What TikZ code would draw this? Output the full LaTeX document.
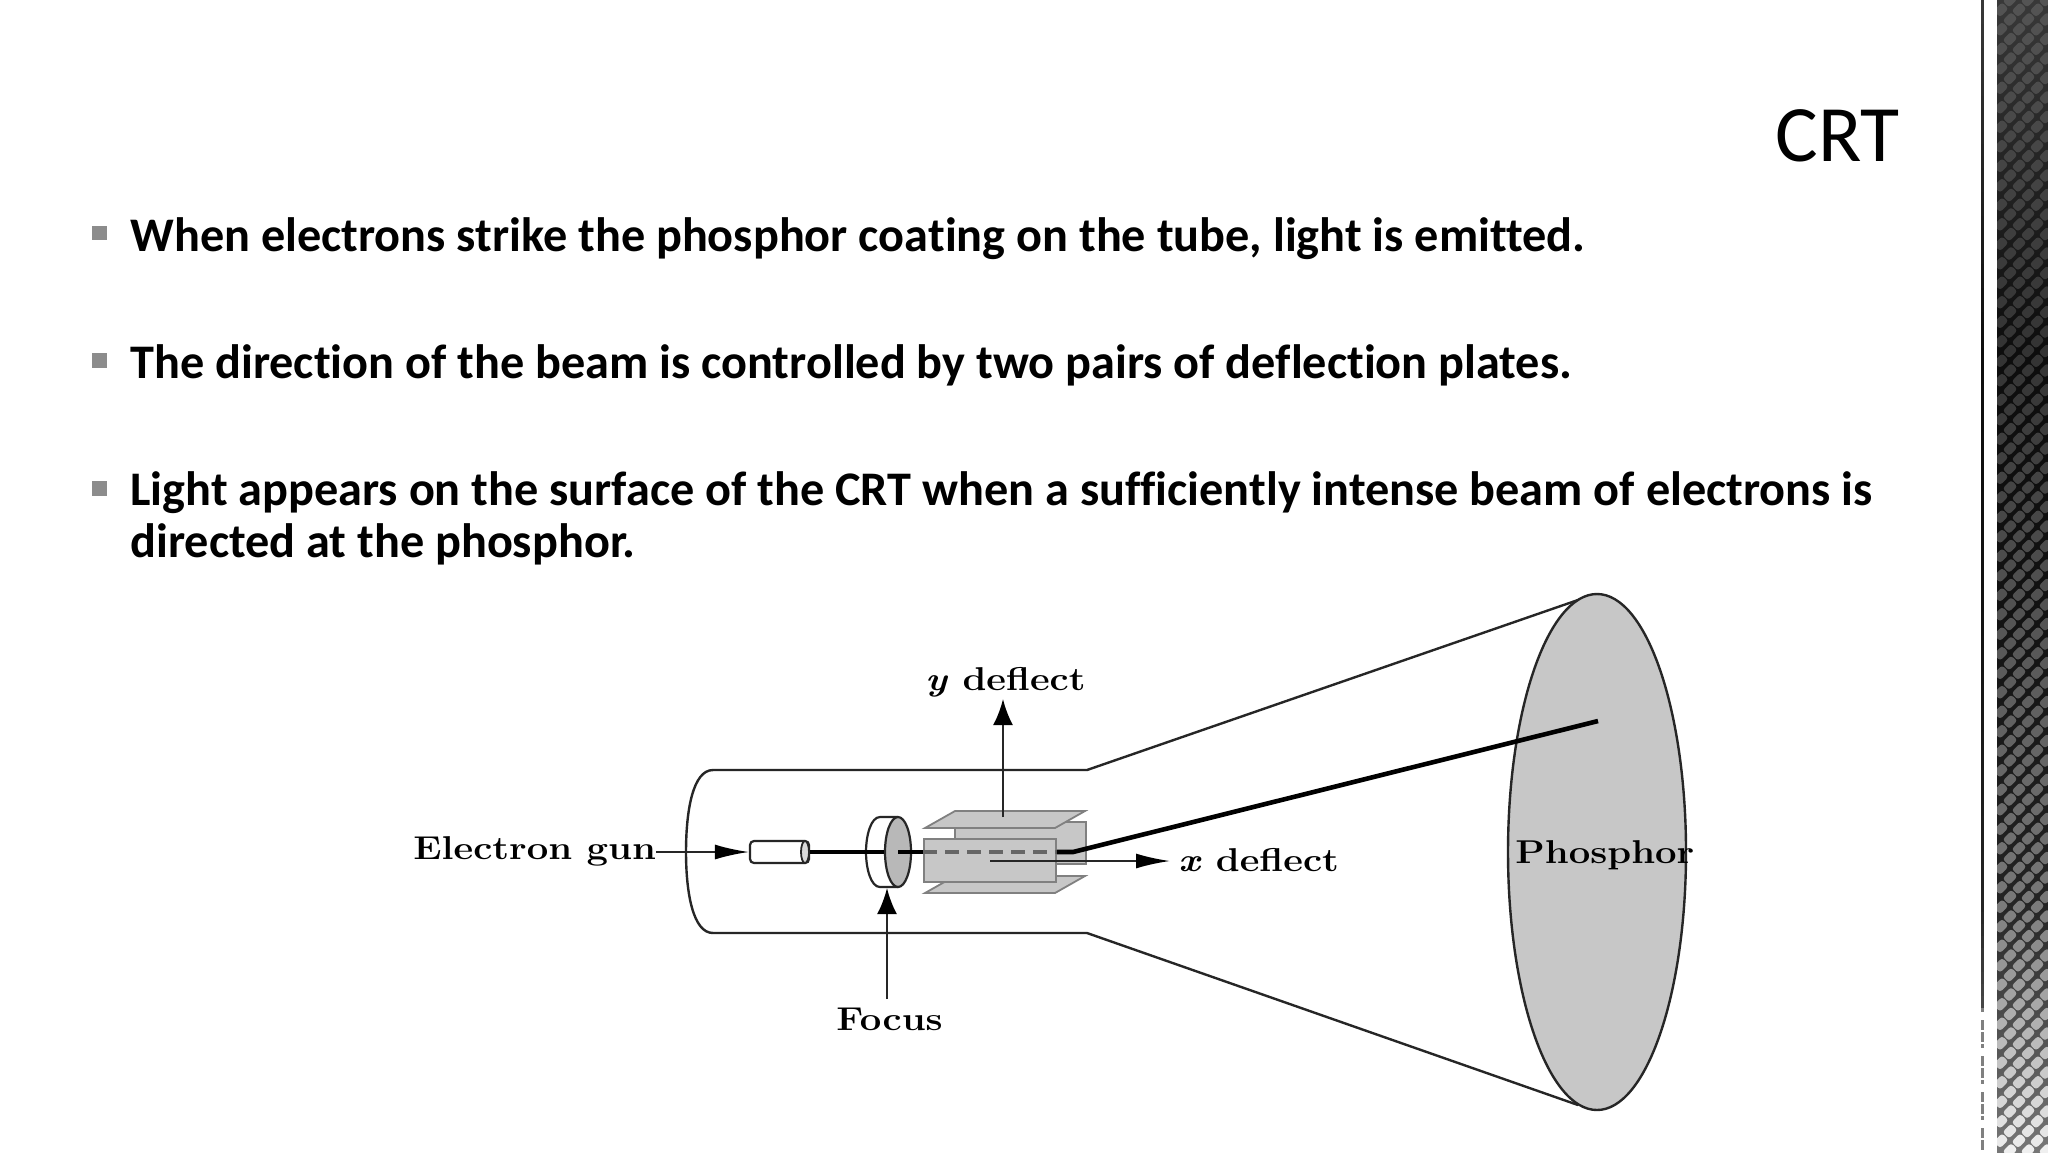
\documentclass[tikz,border=0pt]{standalone}
\usepackage{fontspec}
\usepackage{graphicx}
\usetikzlibrary{arrows.meta,shapes.geometric}
\newfontfamily\carlito{Carlito}[Ligatures=NoCommon]
\def\bgexpr#1{(#1<350?.22-.17*#1/350:(#1<600?.05+.02*(#1-350)/250:(#1<900?.07+.07*(#1-600)/300:(#1<1000?.14+.14*(#1-900)/100:.28+.19*(#1-1000)/152))))}
\def\dmexpr#1{(#1<350?.33-.13*#1/350:(#1<600?.20+.12*(#1-350)/250:(#1<900?.32+.15*(#1-600)/300:(#1<1000?.47+.18*(#1-900)/100:.65+.29*(#1-1000)/152))))}
\newcommand{\wide}[1]{\scalebox{1.16}[1]{\addfontfeature{FakeBold=0.35}#1}}
\tikzset{
  bodytext/.style={anchor=base west,inner sep=0pt,font=\carlito\bfseries\fontsize{24.12}{29}\selectfont,text=black},
  titletext/.style={anchor=base west,inner sep=0pt,font=\carlito\fontsize{40}{48}\selectfont,text=black},
  bulletbox/.style={fill=black!45,draw=none},
  lab/.style={anchor=base west,inner sep=0pt,font=\bfseries\fontsize{16.5}{20}\selectfont,text=black},
  tube/.style={draw=black!85,line width=1.2pt},
  fine/.style={draw=black!85,line width=1.1pt},
  plate/.style={fill=black!22,draw=black!50,line width=0.9pt},
  harrow/.style={draw=black!85,line width=1pt,-{Latex[length=17pt,width=7.5pt,black]}},
  varrow/.style={draw=black!85,line width=1.2pt,-{Latex[length=13pt,width=10pt,black]}},
  beam/.style={draw=black,line width=2.3pt},
  dashbeam/.style={draw=black!60,line width=1.7pt,dash pattern=on 7pt off 4pt},
}
\begin{document}
\begin{tikzpicture}[x=0.5pt,y=-0.5pt]
\useasboundingbox (0,0) rectangle (2048,1152);
\fill[white] (0,0) rectangle (2048,1152);
% right-hand decorative strip
\foreach \yy in {0,6,...,1146}{
  \pgfmathsetmacro\pp{100*(1-\bgexpr{\yy})}
  \fill[black!\pp!white] (1997,\yy) rectangle (2048,\yy+7);
}
\begin{scope}
\clip (1997,0) rectangle (2048,1152);
\foreach \n in {0,...,118}{
  \pgfmathsetmacro\yy{\n*9.75}
  \pgfmathsetmacro\pp{100*(1-\dmexpr{\yy})}
  \pgfmathsetmacro\xo{mod(\n,2)==0?2010:2001}
  \foreach \k in {0,1,2}{
    \fill[black!\pp!white,rounded corners=1.5pt]
      (\xo+\k*18-7.5,\yy+1) -- (\xo+\k*18+1,\yy-7.5) -- (\xo+\k*18+7.5,\yy-1) -- (\xo+\k*18-1,\yy+7.5) -- cycle;
  }
}
\end{scope}
\foreach \yy in {0,12,...,1140}{
  \pgfmathsetmacro\pp{\yy<1000?100*(1-\bgexpr{\yy}):50}
  \pgfmathsetmacro\hh{\yy<1000?13:(mod(\yy,36)==0?4:10)}
  \fill[black!\pp!white] (1980.5,\yy) rectangle (1983.5,\yy+\hh);
}
% text
\node[titletext] (title) at (1775,161) {CRT};
\fill[bulletbox] (92,226) rectangle (107,240);
\fill[bulletbox] (92,353) rectangle (107,368);
\fill[bulletbox] (92,481) rectangle (107,496);
\node[bodytext] (t1) at (130,251) {When electrons strike the phosphor coating on the tube, light is emitted.};
\node[bodytext] (t2) at (130,378) {The direction of the beam is controlled by two pairs of deflection plates.};
\node[bodytext] (t3) at (130,505) {Light appears on the surface of the CRT when a sufficiently intense beam of electrons is};
\node[bodytext] (t4) at (130,557) {directed at the phosphor.};
% tube
\coordinate (tubeTL) at (713,770);
\coordinate (tubeTR) at (1087,770);
\coordinate (tubeBL) at (713,933);
\coordinate (tubeBR) at (1087,933);
\coordinate (flareT) at (1578,600);
\coordinate (flareB) at (1578,1105);
\draw[tube] (tubeTL) .. controls (693,770) and (686,810) .. (686,852) .. controls (686,893) and (693,933) .. (tubeBL);
\draw[tube] (tubeTL) -- (tubeTR) -- (flareT);
\draw[tube] (tubeBL) -- (tubeBR) -- (flareB);
% phosphor screen
\node[ellipse,draw=black!85,line width=1.2pt,fill=black!22,inner sep=0pt,minimum width=89pt,minimum height=258pt] (phos) at (1597,852) {};
% electron gun
\node[rectangle,rounded corners=2pt,draw=black!85,line width=1.1pt,fill=white,inner sep=0pt,minimum width=29.5pt,minimum height=11pt] (gun) at (779.5,852) {};
\node[ellipse,draw=black!85,line width=0.9pt,fill=black!15,inner sep=0pt,minimum width=4pt,minimum height=11pt] (gunend) at (805,852) {};
% focus lens
\coordinate (lensT) at (898,817);
\coordinate (lensB) at (898,887);
\draw[fine,fill=white] (lensT) -- (880,817) .. controls (871,817) and (866,835) .. (866,852) .. controls (866,869) and (871,887) .. (880,887) -- (lensB);
\node[ellipse,draw=black!85,line width=1.1pt,fill=black!28,inner sep=0pt,minimum width=13pt,minimum height=35pt] (lens) at (898,852) {};
% deflection plates
\draw[plate] (955,822) rectangle (1086,864);
\draw[plate] (925,828) -- (955,811) -- (1085,811) -- (1055,828) -- cycle;
\draw[plate] (925,893) -- (955,876) -- (1085,876) -- (1055,893) -- cycle;
\node[rectangle,plate,inner sep=0pt,minimum width=66pt,minimum height=21.5pt] (front) at (990,860.5) {};
% beam
\coordinate (lensC) at (898,852);
\coordinate (bend) at (1073,852);
\coordinate (spot) at (1598,721);
\draw[beam] (gunend.east) -- (lens.west |- gunend.east);
\draw[beam] (lensC) -- (front.west |- lensC);
\draw[dashbeam] (front.west |- lensC) -- (front.east |- lensC);
\draw[beam,line join=round] (front.east |- lensC) -- (bend) -- (spot);
% labels
\node[lab] (egun) at (413,859) {\wide{Electron gun}};
\node[lab] (ydef) at (925,690) {\wide{\textit{y} deflect}};
\node[lab] (xdef) at (1178,871) {\wide{\textit{x} deflect}};
\node[lab] (foc) at (836,1030) {\wide{Focus}};
\node[lab] (pho) at (1515,863) {\wide{Phosphor}};
% arrows
\coordinate (ystart) at (1003,817);
\coordinate (ytip) at (1003,699);
\coordinate (xstart) at (990,861);
\coordinate (xtip) at (1170,861);
\coordinate (fstart) at (887,999);
\coordinate (ftip) at (887,888);
\draw[harrow] (egun.east |- gun.west) -- (gun.west);
\draw[varrow] (ystart) -- (ytip);
\draw[harrow] (xstart) -- (xtip);
\draw[varrow] (fstart) -- (ftip);
\end{tikzpicture}
\end{document}
